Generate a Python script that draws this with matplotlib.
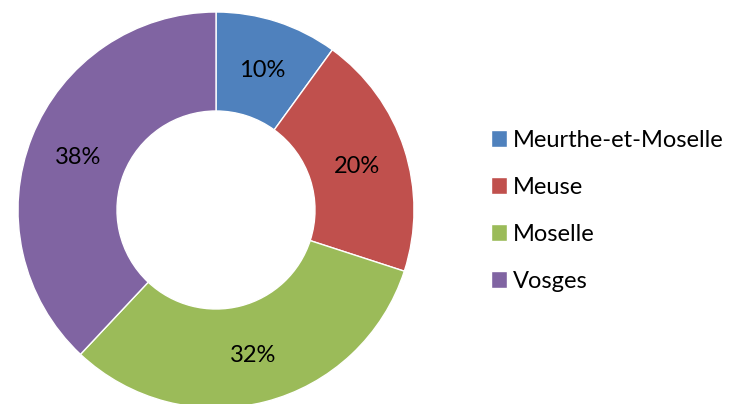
import matplotlib.pyplot as plt
import numpy as np

labels = ['Meurthe-et-Moselle', 'Meuse', 'Moselle', 'Vosges']
values = [10, 20, 32, 38]
colors = ['#4F81BD', '#C0504D', '#9BBB59', '#8064A2']

plt.rcParams['font.family'] = ['Lato', 'DejaVu Sans']


def main():
    fig = plt.figure(figsize=(7.33, 4.04), dpi=100)
    # donut centred at about (216, 210) px, outer radius ~198 px
    ax = fig.add_axes([18 / 733, -4 / 404, 396 / 733, 396 / 404])
    wedges, texts = ax.pie(values, colors=colors, startangle=90, counterclock=False,
                           radius=1.0,
                           wedgeprops=dict(width=0.5, edgecolor='white', linewidth=1))
    ax.set_xlim(-1, 1)
    ax.set_ylim(-1, 1)
    ax.set_aspect('equal')

    start = 90.0
    total = float(sum(values))
    for v in values:
        ang = start - v / total * 360 / 2
        start -= v / total * 360
        r = 0.75
        ax.text(r * np.cos(np.radians(ang)), r * np.sin(np.radians(ang)) - 0.01,
                '{}%'.format(v), ha='center', va='center', fontsize=17, color='black')

    fig.legend(wedges, labels, loc='upper left', bbox_to_anchor=(479 / 733, 1 - 118 / 404),
               frameon=False, fontsize=17, handlelength=0.7, handleheight=0.7,
               handletextpad=0.25, labelspacing=1.1, borderpad=0)

    fig.savefig('out.png', dpi=100)


if __name__ == '__main__':
    main()
